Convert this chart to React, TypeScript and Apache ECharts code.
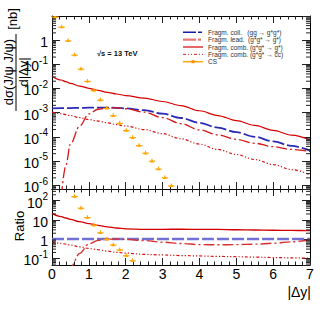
import React, { useEffect, useRef } from "react";
import * as echarts from "echarts";

// ---- data ----
const dyGrid = [0, 0.25, 0.375, 0.5, 0.75, 1, 1.25, 1.5, 1.75, 2, 2.5, 3, 3.5, 4, 4.5, 5, 5.5, 6, 6.5, 7];
// Fragm. coll. (gg -> g*g*)
const fragColl = [1.51e-3, 1.53e-3, 1.54e-3, 1.55e-3, 1.58e-3, 1.6e-3, 1.62e-3, 1.62e-3, 1.58e-3, 1.51e-3, 1.26e-3, 9.1e-4, 6.0e-4, 3.8e-4, 2.4e-4, 1.55e-4, 1.0e-4, 6.5e-5, 4.2e-5, 2.7e-5];
// Fragm. lead. (g*g* -> g*)
const fragLead = [null, 3.2e-7, 6.3e-6, 5.0e-5, 2.8e-4, 8.9e-4, 1.38e-3, 1.58e-3, 1.58e-3, 1.45e-3, 1.05e-3, 6.2e-4, 3.5e-4, 1.95e-4, 1.2e-4, 7.9e-5, 5.4e-5, 3.9e-5, 3.0e-5, 2.45e-5];
// Fragm. comb. (g*g* -> g*)
const fragCombG = [3.24e-2, 2.24e-2, 1.91e-2, 1.62e-2, 1.26e-2, 1.02e-2, 8.3e-3, 6.9e-3, 5.9e-3, 5.1e-3, 4.0e-3, 2.9e-3, 1.95e-3, 1.2e-3, 7.6e-4, 4.7e-4, 2.95e-4, 1.86e-4, 1.17e-4, 7.4e-5];
// Fragm. comb. (g*g* -> cc)
const fragCombCC = [1.05e-3, 9.1e-4, 8.3e-4, 7.6e-4, 6.2e-4, 5.2e-4, 4.5e-4, 3.8e-4, 3.2e-4, 2.8e-4, 2.0e-4, 1.35e-4, 8.3e-5, 5.0e-5, 3.0e-5, 1.86e-5, 1.15e-5, 7.1e-6, 4.4e-6, 2.7e-6];
// CS points
const csX = [0.0875, 0.2625, 0.4375, 0.6125, 0.7875, 0.9625, 1.1375, 1.3125, 1.4875, 1.6625, 1.8375, 2.0125, 2.1875, 2.3625, 2.5375, 2.7125, 2.8875, 3.0625, 3.2375];
const csY = [9, 3.45, 0.93, 0.24, 0.063, 0.0196, 8.3e-3, 3.3e-3, 1.5e-3, 7.4e-4, 3.6e-4, 1.8e-4, 9.2e-5, 4.3e-5, 2.1e-5, 9.8e-6, 4.6e-6, 2.0e-6, 9.3e-7];
const csRatioX = [0.6125, 0.7875, 0.9625, 1.1375, 1.3125, 1.4875, 1.6625, 1.8375, 2.0125, 2.1875];
const csRatioY = [160, 40, 12.9, 5.2, 2.1, 0.96, 0.49, 0.27, 0.135, 0.074];
const csHalfWidth = 0.0875;

const xTicks = [0, 1, 2, 3, 4, 5, 6, 7];
const legendLabels = [
  "Fragm. coll.   (gg \u2192 g*g*)",
  "Fragm. lead.  (g*g* \u2192 g*)",
  "Fragm. comb. (g*g* \u2192 g*)",
  "Fragm. comb. (g*g* \u2192 c\u0305c)",
  "CS",
];

const FONT = "'Liberation Sans', Arial, Helvetica, sans-serif";
const TOP_MIN = -6.16, TOP_MAX = 1;
const R_MIN = -1.35, R_MAX = 2.6;

const toLog = (xs: number[], ys: (number | null)[]) =>
  xs.map((x, i) => (ys[i] == null ? null : [x, Math.log10(ys[i] as number)])).filter((p) => p !== null);
const ratio = (ys: (number | null)[]) => ys.map((v, i) => (v == null ? null : v / fragColl[i]));

function minorTicks(lo: number, hi: number) {
  const out: number[][] = [];
  for (let n = Math.floor(lo) - 1; n <= Math.ceil(hi); n++) {
    for (let k = 2; k <= 9; k++) {
      const v = n + Math.log10(k);
      if (v > lo && v < hi) out.push([0, v]);
    }
  }
  return out;
}

function labelFmt(hideTop: boolean) {
  return (v: number) => {
    const r = Math.round(v);
    if (Math.abs(v - r) > 1e-6) return "";
    if (hideTop && r >= 1) return "";
    if (r === 0) return "{b|1}";
    if (r === 1) return "{b|10}";
    return `{b|10}{s|${r}}`;
  };
}

const rich = {
  b: { fontSize: 14, fontFamily: FONT, color: "#000", lineHeight: 18, verticalAlign: "bottom" },
  s: { fontSize: 10, fontFamily: FONT, color: "#000", lineHeight: 10, verticalAlign: "top" },
};

function xAxis(grid: number, pos: "top" | "bottom", labels: boolean) {
  return {
    type: "value", gridIndex: grid, position: pos, min: 0, max: 7, interval: 1,
    axisLine: { show: true, onZero: false, lineStyle: { color: "#000", width: 1 } },
    axisTick: { show: true, inside: true, length: 7, lineStyle: { color: "#222" } },
    minorTick: { show: true, splitNumber: 5, length: 3.5, lineStyle: { color: "#222" } },
    splitLine: { show: false },
    axisLabel: labels
      ? { show: true, fontSize: 14, fontFamily: FONT, color: "#000", margin: 2, formatter: (v: number) => (xTicks.includes(v) ? String(v) : "") }
      : { show: false },
  };
}

function yAxis(grid: number, pos: "left" | "right", lo: number, hi: number, labels: boolean, hideTop: boolean) {
  return {
    type: "value", gridIndex: grid, position: pos, min: lo, max: hi, minInterval: 1, maxInterval: 1,
    axisLine: { show: true, onZero: false, lineStyle: { color: "#000", width: 1 } },
    axisTick: { show: true, inside: true, length: 8, lineStyle: { color: "#222" } },
    splitLine: { show: false },
    axisLabel: labels ? { show: true, margin: 4, formatter: labelFmt(hideTop), rich } : { show: false },
  };
}

function minorSeries(xi: number, yi: number, lo: number, hi: number) {
  return {
    type: "custom", xAxisIndex: xi, yAxisIndex: yi, silent: true, z: 5,
    data: minorTicks(lo, hi),
    encode: { x: 0, y: 1 },
    renderItem: (_p: any, api: any) => {
      const a = api.coord([0, api.value(1)]);
      const b = api.coord([7, api.value(1)]);
      return {
        type: "group",
        children: [
          { type: "line", shape: { x1: a[0], y1: a[1], x2: a[0] + 4, y2: a[1] }, style: { stroke: "#222", lineWidth: 1 } },
          { type: "line", shape: { x1: b[0] - 4, y1: b[1], x2: b[0], y2: b[1] }, style: { stroke: "#222", lineWidth: 1 } },
        ],
      };
    },
  };
}

function csSeries(xi: number, yi: number, xs: number[], ys: number[]) {
  return {
    type: "custom", xAxisIndex: xi, yAxisIndex: yi, clip: true, z: 6,
    data: toLog(xs, ys),
    encode: { x: 0, y: 1 },
    renderItem: (_p: any, api: any) => {
      const x = api.value(0), y = api.value(1);
      const a = api.coord([x - csHalfWidth, y]);
      const b = api.coord([x + csHalfWidth, y]);
      const c = api.coord([x, y]);
      return {
        type: "group",
        children: [
          { type: "line", shape: { x1: a[0], y1: a[1], x2: b[0], y2: b[1] }, style: { stroke: "#ffa500", lineWidth: 1.2 } },
          { type: "line", shape: { x1: c[0], y1: c[1] - 2.5, x2: c[0], y2: c[1] + 1 }, style: { stroke: "#ffa500", lineWidth: 1 } },
          { type: "polygon", shape: { points: [[c[0] - 2, c[1] + 1.2], [c[0] + 2, c[1] + 1.2], [c[0], c[1] - 1.8]] }, style: { fill: "#ffa500" } },
        ],
      };
    },
  };
}

function lineSeries(xi: number, yi: number, data: any[], color: string, width: number, dash: any, z = 4) {
  return {
    type: "line", xAxisIndex: xi, yAxisIndex: yi, data, showSymbol: false, symbol: "none",
    smooth: 0.35, smoothMonotone: "x", clip: true, z,
    lineStyle: { color, width, type: dash },
  };
}

export default function App() {
  const ref = useRef<HTMLDivElement>(null);
  useEffect(() => {
    if (!ref.current) return;
    const chart = echarts.init(ref.current, null, { renderer: "svg" });
    const lg = (i: number) => 32.3 + i * 7.35;
    const option: any = {
      animation: false,
      backgroundColor: "#fff",
      grid: [
        { left: 52, top: 16, width: 258, height: 173 },
        { left: 52, top: 189, width: 258, height: 76 },
      ],
      xAxis: [xAxis(0, "bottom", false), xAxis(0, "top", false), xAxis(1, "bottom", true), xAxis(1, "top", false)],
      yAxis: [
        yAxis(0, "left", TOP_MIN, TOP_MAX, true, true),
        yAxis(0, "right", TOP_MIN, TOP_MAX, false, true),
        yAxis(1, "left", R_MIN, R_MAX, true, false),
        yAxis(1, "right", R_MIN, R_MAX, false, false),
      ],
      series: [
        minorSeries(0, 0, TOP_MIN, TOP_MAX),
        minorSeries(2, 2, R_MIN, R_MAX),
        lineSeries(0, 0, toLog(dyGrid, fragCombCC), "#d41010", 1.2, [3, 2, 1.2, 2, 1.2, 2]),
        lineSeries(0, 0, toLog(dyGrid, fragColl), "#2a2ab4", 1.8, [12, 3]),
        lineSeries(0, 0, toLog(dyGrid, fragLead), "#d41818", 1.3, [11, 3, 2, 3]),
        lineSeries(0, 0, toLog(dyGrid, fragCombG), "#d40000", 1.2, "solid"),
        csSeries(0, 0, csX, csY),
        lineSeries(2, 2, toLog(dyGrid, ratio(fragCombCC)), "#d41010", 1.2, [3, 2, 1.2, 2, 1.2, 2]),
        lineSeries(2, 2, toLog(dyGrid, ratio(fragColl)), "#7272d6", 2.6, [12, 3]),
        lineSeries(2, 2, toLog(dyGrid, ratio(fragLead)), "#d83030", 1.4, [11, 3, 2, 3]),
        lineSeries(2, 2, toLog(dyGrid, ratio(fragCombG)), "#d40000", 1.3, "solid"),
        csSeries(2, 2, csRatioX, csRatioY),
      ],
      graphic: [
        // legend
        { type: "line", shape: { x1: 183, y1: lg(0), x2: 203, y2: lg(0) }, style: { stroke: "#1a1aaa", lineWidth: 1.5, lineDash: [13, 2, 4, 2] } },
        { type: "line", shape: { x1: 183, y1: lg(1), x2: 203, y2: lg(1) }, style: { stroke: "#e87878", lineWidth: 2.4, lineDash: [13, 2, 3, 2] } },
        { type: "line", shape: { x1: 183, y1: lg(2), x2: 203, y2: lg(2) }, style: { stroke: "#d40000", lineWidth: 1.2 } },
        { type: "line", shape: { x1: 183, y1: lg(3), x2: 203, y2: lg(3) }, style: { stroke: "#d42020", lineWidth: 1, lineDash: [3, 2, 1, 2, 1, 2] } },
        { type: "line", shape: { x1: 183, y1: lg(4), x2: 203, y2: lg(4) }, style: { stroke: "#ffa500", lineWidth: 1.5 } },
        { type: "rect", shape: { x: 191.5, y: lg(4) - 1.5, width: 3, height: 3 }, style: { fill: "#ff8c00" } },
        ...legendLabels.map((t, i) => ({
          type: "text", x: 208, y: lg(i),
          style: { text: t, fontSize: 6.5, fontFamily: FONT, fill: "#333", verticalAlign: "middle", align: "left" },
        })),
        // energy
        { type: "text", x: 97, y: 53, style: { text: "\u221As = 13 TeV", fontSize: 7.5, fontWeight: "bold", fontFamily: FONT, fill: "#111", verticalAlign: "middle" } },
        // y titles
        { type: "text", x: 8, y: 72, rotation: Math.PI / 2, style: { text: "d\u03c3(J/\u03c8 J/\u03c8)", fontSize: 13, fontFamily: FONT, fill: "#000", align: "center", verticalAlign: "middle" } },
        { type: "line", shape: { x1: 16, y1: 34, x2: 16, y2: 111 }, style: { stroke: "#000", lineWidth: 1 } },
        { type: "text", x: 23, y: 72, rotation: Math.PI / 2, style: { text: "d|\u0394y|", fontSize: 13, fontFamily: FONT, fill: "#000", align: "center", verticalAlign: "middle" } },
        { type: "text", x: 12, y: 19, rotation: Math.PI / 2, style: { text: "[nb]", fontSize: 13, fontFamily: FONT, fill: "#000", align: "center", verticalAlign: "middle" } },
        { type: "text", x: 19, y: 226, rotation: Math.PI / 2, style: { text: "Ratio", fontSize: 13, fontFamily: FONT, fill: "#000", align: "center", verticalAlign: "middle" } },
        // x title
        { type: "text", x: 311, y: 292, style: { text: "|\u0394y|", fontSize: 14, fontFamily: FONT, fill: "#000", align: "right", verticalAlign: "middle" } },
      ],
    };
    chart.setOption(option);
    return () => chart.dispose();
  }, []);
  return <div ref={ref} style={{ position: "absolute", left: 0, top: 0, width: 327, height: 316, background: "#fff" }} />;
}
